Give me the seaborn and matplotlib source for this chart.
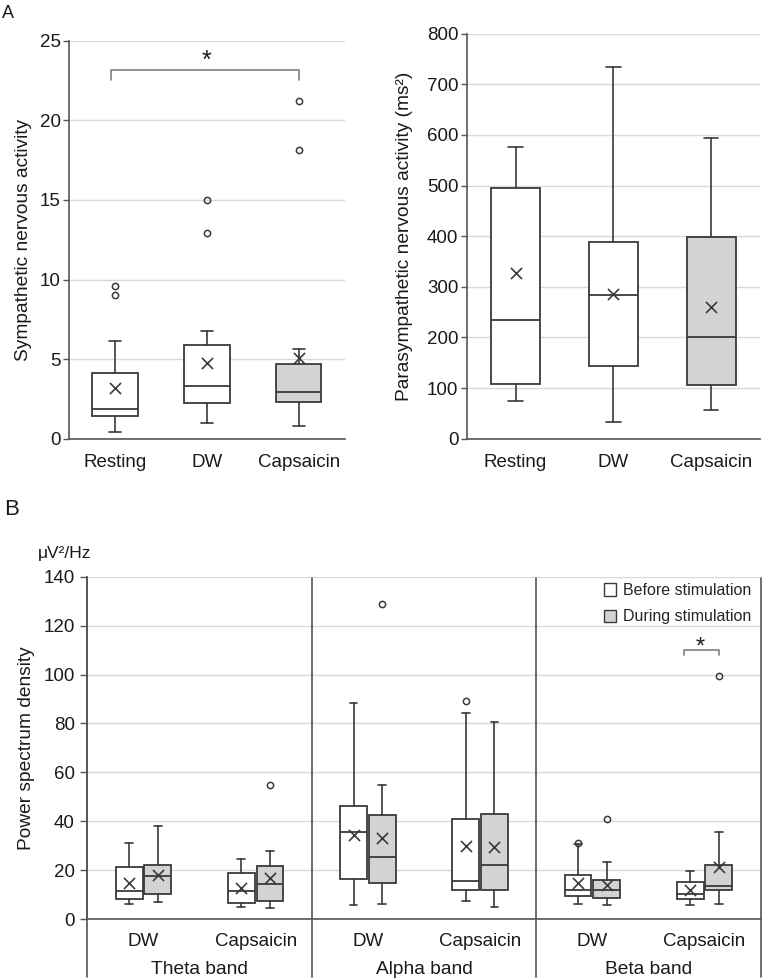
import numpy as np
import pandas as pd
import matplotlib
matplotlib.use("Agg")
import matplotlib.pyplot as plt
import seaborn as sns
from matplotlib.patches import Patch

# ---------------- Data ----------------
conditions = ["Resting", "DW", "Capsaicin"]
cond_fill = ["white", "white", "#d3d3d3"]

# Panel A left: sympathetic nervous activity
symp_whislo = [0.40, 0.96, 0.82]
symp_q1 = [1.44, 2.26, 2.30]
symp_med = [1.88, 3.29, 2.93]
symp_q3 = [4.10, 5.90, 4.71]
symp_whishi = [6.16, 6.76, 5.63]
symp_mean = [3.20, 4.73, 5.05]
symp_outliers = [[9.61, 9.05], [14.97, 12.92], [21.23, 18.13]]

# Panel A right: parasympathetic nervous activity (ms^2)
para_whislo = [74, 34, 56]
para_q1 = [109, 143, 107]
para_med = [235, 284, 201]
para_q3 = [496, 388, 398]
para_whishi = [577, 734, 594]
para_mean = [328, 286, 261]

# Panel B: power spectrum density
bands = ["Theta band", "Alpha band", "Beta band"]
stimuli = ["DW", "Capsaicin"]
phases = ["Before stimulation", "During stimulation"]
phase_fill = ["white", "#d3d3d3"]

# order: Theta-DW, Theta-Cap, Alpha-DW, Alpha-Cap, Beta-DW, Beta-Cap
before_whislo = [6.1, 5.0, 5.7, 7.4, 6.3, 5.7]
before_q1 = [8.0, 6.7, 16.2, 11.9, 9.4, 8.2]
before_med = [11.5, 11.3, 35.7, 15.7, 11.7, 10.4]
before_q3 = [21.1, 18.7, 46.1, 41.0, 18.0, 15.3]
before_whishi = [31.1, 24.7, 88.3, 84.4, 30.8, 19.8]
before_mean = [14.6, 12.7, 34.2, 29.7, 14.6, 11.9]
before_outliers = [[], [], [], [89.3], [31.3], []]

during_whislo = [7.0, 4.6, 6.1, 4.9, 5.9, 6.3]
during_q1 = [10.1, 7.2, 14.9, 11.7, 8.5, 12.0]
during_med = [17.6, 14.2, 25.2, 21.9, 12.0, 13.6]
during_q3 = [22.1, 21.8, 42.4, 42.8, 15.8, 21.9]
during_whishi = [38.0, 27.9, 54.9, 80.7, 23.4, 35.6]
during_mean = [18.0, 16.6, 33.0, 29.6, 13.9, 21.1]
during_outliers = [[], [54.7], [128.8], [], [40.9], [99.5]]

# ---------------- Style ----------------
sns.set_theme(style="white")
plt.rcParams['font.family'] = ['Liberation Sans', 'DejaVu Sans']
EDGE = "#3a3a3a"
GRID = "#d9d9d9"
SPINE = "#555555"
TXT = "#1a1a1a"
TICK_FS = 13.5
LAB_FS = 13.8


def make_stats(lo, q1, med, q3, hi, outl=None):
    stats = []
    for i in range(len(lo)):
        stats.append(dict(whislo=lo[i], q1=q1[i], med=med[i], q3=q3[i], whishi=hi[i],
                          fliers=np.array(outl[i] if outl is not None else [])))
    return stats


def draw_boxes(ax, stats, positions, width, capw, fills, means):
    bp = ax.bxp(stats, positions=positions, widths=width, capwidths=capw,
                patch_artist=True, showfliers=True, manage_ticks=False,
                boxprops=dict(edgecolor=EDGE, linewidth=1.3),
                whiskerprops=dict(color=EDGE, linewidth=1.2),
                capprops=dict(color=EDGE, linewidth=1.2),
                medianprops=dict(color=EDGE, linewidth=1.3),
                flierprops=dict(marker='o', markersize=4.5, markerfacecolor='none',
                                markeredgecolor=EDGE, markeredgewidth=1.1))
    for patch, fc in zip(bp['boxes'], fills):
        patch.set_facecolor(fc)
        patch.set_zorder(2)
    df = pd.DataFrame({"x": positions, "m": means})
    sns.scatterplot(data=df, x="x", y="m", marker="x", s=64, color=EDGE,
                    linewidth=1.2, ax=ax, legend=False, zorder=5)
    ax.set_xlabel("")


def style_axis(ax):
    ax.yaxis.grid(True, color=GRID, linewidth=1.0)
    ax.set_axisbelow(True)
    for s in ["top", "right"]:
        ax.spines[s].set_visible(False)
    for s in ["left", "bottom"]:
        ax.spines[s].set_color(SPINE)
        ax.spines[s].set_linewidth(1.2)
    ax.tick_params(axis='y', which='major', left=True, length=4, width=1, color=SPINE,
                   labelsize=TICK_FS, pad=2, labelcolor=TXT)
    ax.tick_params(axis='x', which='major', bottom=False, length=0, labelsize=TICK_FS,
                   pad=11, labelcolor=TXT)


fig = plt.figure(figsize=(7.63, 9.80), dpi=100)

# ---------- Panel A left ----------
ax1 = fig.add_axes([0.0904, 0.5523, 0.3617, 0.4062])
pos = np.arange(len(conditions))
draw_boxes(ax1, make_stats(symp_whislo, symp_q1, symp_med, symp_q3, symp_whishi, symp_outliers),
           pos, 0.49, 0.13, cond_fill, symp_mean)
ax1.set_xlim(-0.5, 2.5)
ax1.set_ylim(0, 25)
ax1.set_yticks(np.arange(0, 26, 5))
ax1.set_xticks(pos)
ax1.set_xticklabels(conditions)
ax1.set_ylabel("Sympathetic nervous activity", fontsize=LAB_FS, color=TXT)
ax1.yaxis.set_label_coords(-0.134, 0.5)
style_axis(ax1)
# significance bracket
ax1.plot([-0.04, -0.04, 2.0, 2.0], [22.5, 23.15, 23.15, 22.5], color="#808080", lw=1.2,
         clip_on=False, zorder=3)
ax1.text(1.0, 23.3, "*", ha="center", va="baseline", fontsize=18, color=TXT)

# ---------- Panel A right ----------
ax2 = fig.add_axes([0.6117, 0.5523, 0.3844, 0.4133])
draw_boxes(ax2, make_stats(para_whislo, para_q1, para_med, para_q3, para_whishi),
           pos, 0.5, 0.15, cond_fill, para_mean)
ax2.set_xlim(-0.5, 2.5)
ax2.set_ylim(0, 800)
ax2.set_yticks(np.arange(0, 801, 100))
ax2.set_xticks(pos)
ax2.set_xticklabels(conditions)
ax2.set_ylabel("Parasympathetic nervous activity (ms²)", fontsize=LAB_FS, color=TXT)
ax2.yaxis.set_label_coords(-0.183, 0.5)
style_axis(ax2)

# ---------- Panel B ----------
ax3 = fig.add_axes([0.1144, 0.0622, 0.8826, 0.3493])
gpos = np.arange(len(bands) * len(stimuli))
off = 0.128
draw_boxes(ax3, make_stats(before_whislo, before_q1, before_med, before_q3, before_whishi, before_outliers),
           gpos - off, 0.24, 0.07, [phase_fill[0]] * len(gpos), before_mean)
draw_boxes(ax3, make_stats(during_whislo, during_q1, during_med, during_q3, during_whishi, during_outliers),
           gpos + off, 0.24, 0.07, [phase_fill[1]] * len(gpos), during_mean)
ax3.set_xlim(-0.5, len(gpos) - 0.5)
ax3.set_ylim(0, 140)
ax3.set_yticks(np.arange(0, 141, 20))
ax3.set_xticks(gpos)
ax3.set_xticklabels(stimuli * len(bands))
style_axis(ax3)
ax3.tick_params(axis='y', length=5, pad=4)
ax3.tick_params(axis='x', pad=10)
ax3.set_ylabel("Power spectrum density", fontsize=LAB_FS, color=TXT)
ax3.yaxis.set_label_coords(-0.078, 0.5)
ax3.spines['left'].set_bounds(0, 140)
# left spine and separators extending below the axis
trans = ax3.get_xaxis_transform()
for xb in [-0.5, 1.5, 3.5, 5.5]:
    ax3.plot([xb, xb], [-0.17, 1.0 if xb == -0.5 else 0.995], transform=trans,
             color=SPINE, lw=1.2, clip_on=False, zorder=1)
for i, b in enumerate(bands):
    ax3.text(2 * i + 0.5, -0.148, b, transform=trans, ha="center", va="center",
             fontsize=LAB_FS, color=TXT)
ax3.text(-0.073, 1.068, "μV²/Hz", transform=ax3.transAxes, ha="left", va="center",
         fontsize=12.5, color=TXT)
# significance bracket in beta band
ax3.plot([4.82, 4.82, 5.13, 5.13], [108.0, 110.0, 110.0, 108.0], color="#808080",
         lw=1.2, zorder=3)
ax3.text(4.965, 108.6, "*", ha="center", va="baseline", fontsize=17, color=TXT)
handles = [Patch(facecolor=phase_fill[k], edgecolor=EDGE, linewidth=1.0, label=phases[k])
           for k in range(2)]
ax3.legend(handles=handles, loc="upper right", frameon=False, fontsize=11.5,
           handlelength=0.8, handleheight=0.8, handletextpad=0.4, labelspacing=0.7,
           borderaxespad=0.0, bbox_to_anchor=(0.995, 1.0))

# panel letters
fig.text(0.003, 0.995, "A", fontsize=13, ha="left", va="top", color=TXT)
fig.text(0.006, 0.491, "B", fontsize=16, ha="left", va="top", color=TXT)

fig.savefig("out.png", dpi=100)
